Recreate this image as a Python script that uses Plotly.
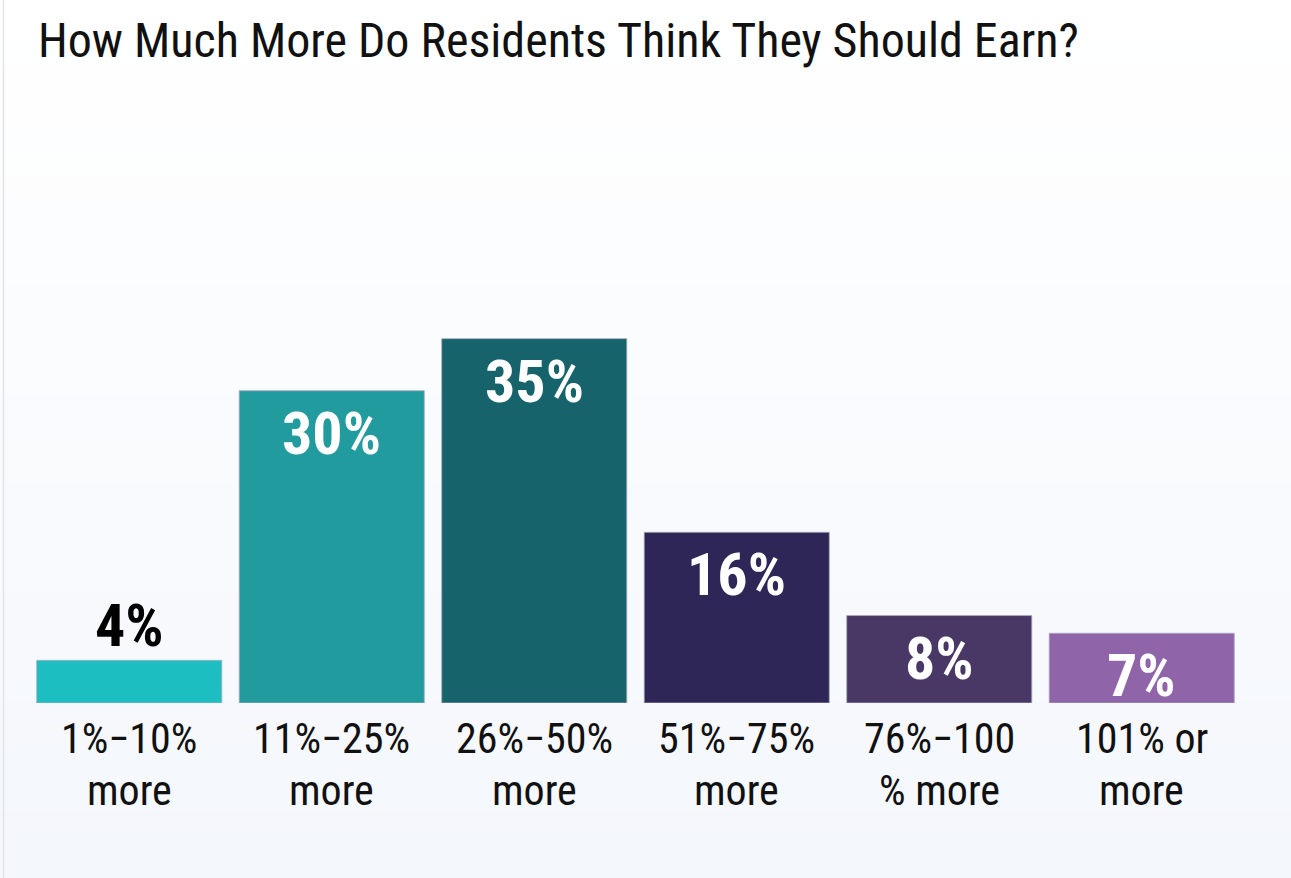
import plotly.graph_objects as go

categories = ["1%−10% more", "11%−25% more", "26%−50% more",
              "51%−75% more", "76%−100% more", "101% or more"]
label_line1 = ["1%−10%", "11%−25%", "26%−50%", "51%−75%", "76%−100", "101% or"]
label_line2 = ["more", "more", "more", "more", "% more", "more"]
values = [4.1, 30.0, 35.0, 16.4, 8.4, 6.7]
value_labels = ["4%", "30%", "35%", "16%", "8%", "7%"]
bar_colors = ["#1cbec1", "#229b9f", "#17636b", "#2e2657", "#493865", "#9064a8"]

W, H = 1291, 878
COND = "Roboto Condensed, Liberation Sans Narrow, Arial Narrow, DejaVu Sans Condensed, Roboto, sans-serif"

fig = go.Figure()
fig.add_trace(go.Bar(
    x=categories, y=values,
    marker=dict(color=bar_colors, line=dict(color="rgba(170,170,190,0.8)", width=1)),
    hoverinfo="skip",
))

annotations = []
for c, v, t in zip(categories, values, value_labels):
    if v > 6:
        annotations.append(dict(x=c, y=v, xref="x", yref="y", text="<b>%s</b>" % t,
                                showarrow=False, yanchor="top", yshift=-5,
                                font=dict(family=COND, size=60, color="white")))
    else:
        annotations.append(dict(x=c, y=v, xref="x", yref="y", text="<b>%s</b>" % t,
                                showarrow=False, yanchor="bottom", yshift=-3,
                                font=dict(family=COND, size=60, color="black")))

# two-line category labels under the bars
for c, l1, l2 in zip(categories, label_line1, label_line2):
    for txt, ys in ((l1, -9), (l2, -61)):
        annotations.append(dict(x=c, y=0, xref="x", yref="y", text=txt,
                                showarrow=False, yanchor="top", yshift=ys,
                                font=dict(family=COND, size=42, color="#111111")))

l, r, b, t = 28, 48, 175, 120
plot_w = W - l - r
plot_h = H - t - b
px_per_unit = 10.41
ymax = plot_h / px_per_unit

# background gradient (white at top -> pale blue at bottom)
shapes = []
n = 40
top_c = (255, 255, 255)
bot_c = (244, 247, 252)
y_top = 1 + t / plot_h
y_bot = -b / plot_h
span = y_top - y_bot
for i in range(n):
    f = i / (n - 1)
    col = tuple(round(top_c[k] + (bot_c[k] - top_c[k]) * f) for k in range(3))
    shapes.append(dict(type="rect", xref="paper", yref="paper", layer="below",
                       x0=-l / plot_w, x1=1 + r / plot_w,
                       y0=y_top - (i + 1) * span / n, y1=y_top - i * span / n + 0.002,
                       fillcolor="rgb(%d,%d,%d)" % col, line=dict(width=0)))
# left card border
shapes.append(dict(type="line", xref="paper", yref="paper", layer="below",
                   x0=(3.5 - l) / plot_w, x1=(3.5 - l) / plot_w, y0=y_bot, y1=y_top,
                   line=dict(color="#e2e4e8", width=1.5)))

fig.update_layout(
    width=W, height=H,
    margin=dict(l=l, r=r, t=t, b=b),
    paper_bgcolor="#f8fafd",
    plot_bgcolor="rgba(0,0,0,0)",
    bargap=0.086,
    showlegend=False,
    title=dict(text="How Much More Do Residents Think They Should Earn?",
               x=38 / W, xanchor="left", xref="container",
               y=1 - 23 / H, yanchor="top", yref="container",
               font=dict(family=COND, size=48, color="#111111")),
    xaxis=dict(range=[-0.5, 5.5], showgrid=False, zeroline=False, showline=False,
               showticklabels=False, ticks=""),
    yaxis=dict(range=[0, ymax], visible=False),
    annotations=annotations,
    shapes=shapes,
)

fig.write_html("out.html")
